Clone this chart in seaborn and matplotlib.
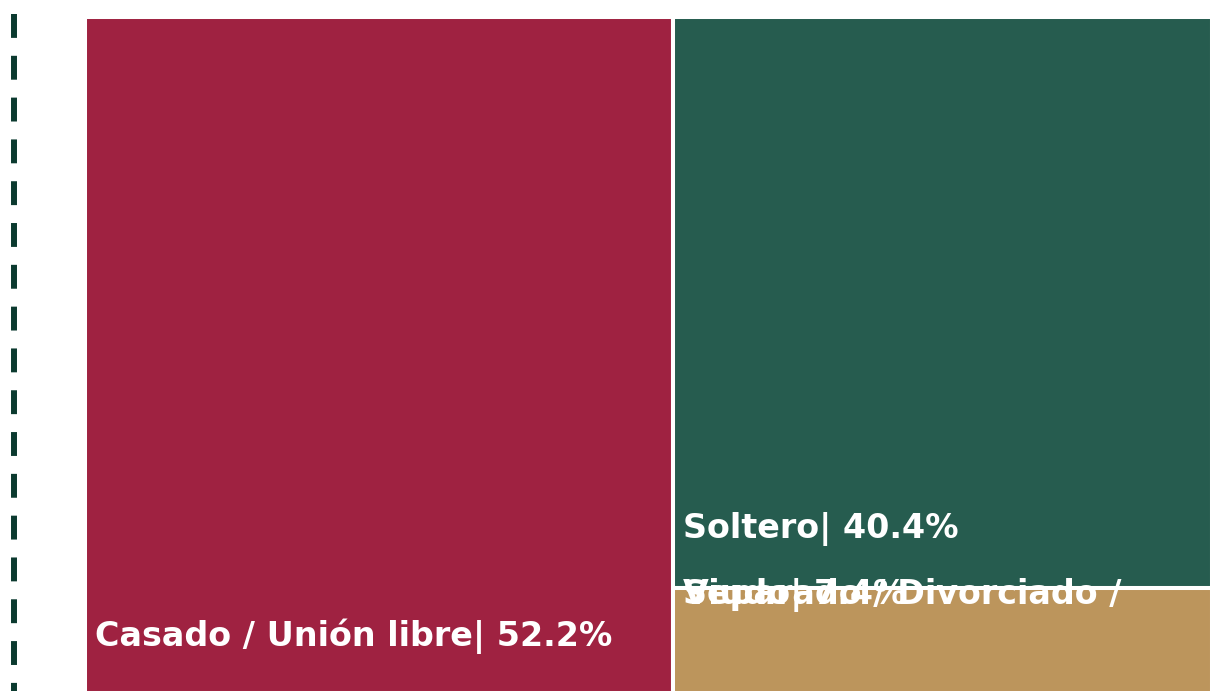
import seaborn as sns
import matplotlib.pyplot as plt
from matplotlib.lines import Line2D

categories = ["Casado / Unión libre", "Soltero", "Separado / Divorciado / Viudo"]
values = [52.2, 40.4, 7.4]
colors = ["#9F2241", "#265C4F", "#BC955C"]

sns.set_theme(style="white")
plt.rcParams["font.family"] = ["DejaVu Sans"]

W, H = 1210, 691
fig = plt.figure(figsize=(W / 100, H / 100), dpi=100)
# axes padded by 2px so the white cell borders only show between cells
ax = fig.add_axes([85 / W, -2 / H, (W + 2 - 85) / W, (H - 17 + 2) / H])

total = sum(values)
# slice-and-dice layout: first block on the left, the rest stacked on the right
w0 = values[0] / total
rest = sum(values[1:])
rects = [(0, 0, w0, 1)]
top = 1
for v in values[1:]:
    h = v / rest
    rects.append((w0, top - h, 1 - w0, h))
    top -= h

for (x, y, w, h), c in zip(rects, colors):
    ax.bar(x, h, width=w, bottom=y, align="edge", color=c, edgecolor="white", linewidth=2.9)

lbl = dict(color="white", fontsize=24, fontweight="bold", ha="left", va="baseline",
           textcoords="offset pixels")
x, y, w, h = rects[0]
ax.annotate(f"{categories[0]}| {values[0]}%", xy=(x, y), xytext=(10, 47), **lbl)
x, y, w, h = rects[1]
ax.annotate(f"{categories[1]}| {values[1]}%", xy=(x, y), xytext=(10, 50), **lbl)
x, y, w, h = rects[2]
# the long label wraps and both lines end up drawn on top of each other
ax.annotate("Separado / Divorciado /", xy=(x, y + h), xytext=(10, -16), **lbl)
ax.annotate(f"Viudo| {values[2]}%", xy=(x, y + h), xytext=(10, -16), **lbl)

ax.set_xlim(0, 1)
ax.set_ylim(0, 1)
ax.axis("off")

dash = Line2D([14 / W, 14 / W], [1 - 14 / H, 0], transform=fig.transFigure,
              color="#0B3A2F", linewidth=4.3, dashes=(4, 3))
fig.add_artist(dash)

fig.savefig("out.png", dpi=100)
